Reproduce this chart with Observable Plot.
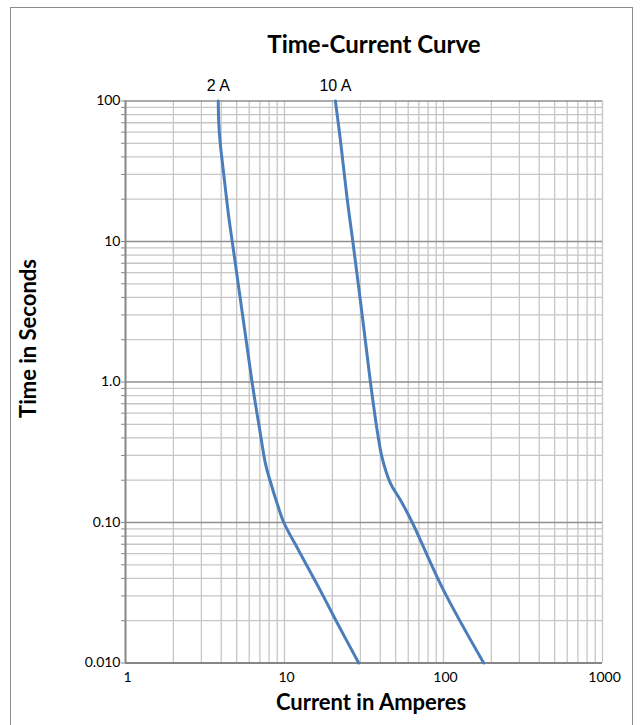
<!DOCTYPE html>
<html>
<head>
<meta charset="utf-8">
<script src="https://cdn.jsdelivr.net/npm/d3@7"></script>
<script src="https://cdn.jsdelivr.net/npm/@observablehq/plot@0.6"></script>
<style>
  html, body { margin: 0; padding: 0; background: #fff; }
  #wrap { position: relative; width: 641px; height: 725px; overflow: hidden; }
  #frame { position: absolute; left: 9.5px; top: 6.5px; width: 623px; height: 740px; border: 1px solid #8c8c8c; box-sizing: border-box; }
  #title { position: absolute; left: 0; top: 0; width: 641px; height: 70px; text-align: center; }
  #title span { position: absolute; left: 374px; top: 43px; transform: translate(-50%, -50%); font: bold 24px Lato, "Open Sans", sans-serif; color: #000; white-space: nowrap; }
  #chart { position: absolute; left: 0; top: 70px; }
</style>
</head>
<body>
<div id="wrap">
  <div id="frame"></div>
  <div id="title"><span>Time-Current Curve</span></div>
  <div id="chart"></div>
</div>
<script>
// ---- data ----
const amps2A = [3.83, 3.86, 3.93, 4.15, 4.46, 4.69, 5.45, 6.25, 7.0, 7.6, 8.1, 9.0, 9.9, 12.3, 16.3, 21.1, 29.3];
const secs2A = [100, 70, 52, 30, 15, 10, 3, 1, 0.45, 0.26, 0.2, 0.136, 0.1, 0.063, 0.035, 0.02, 0.01];
const amps10A = [20.9, 22.5, 24.8, 26.9, 30.8, 34.7, 38.3, 41.1, 46.4, 53.7, 63.6, 100, 179];
const secs10A = [100, 52, 20, 10, 3, 1, 0.45, 0.29, 0.19, 0.144, 0.1, 0.033, 0.01];
const seriesNames = ["2 A", "10 A"];

const xTickValues = [1, 10, 100, 1000];
const xTickLabels = ["1", "10", "100", "1000"];
const yTickValues = [0.01, 0.1, 1, 10, 100];
const yTickLabels = ["0.010", "0.10", "1.0", "10", "100"];

const xTitle = "Current in Amperes";
const yTitle = "Time in Seconds";

// ---- build tables ----
const curves = [
  ...amps2A.map((a, i) => ({series: seriesNames[0], amps: a, secs: secs2A[i]})),
  ...amps10A.map((a, i) => ({series: seriesNames[1], amps: a, secs: secs10A[i]}))
];
const curveLabels = [
  {label: seriesNames[0], amps: amps2A[0], secs: secs2A[0]},
  {label: seriesNames[1], amps: amps10A[0], secs: secs10A[0]}
];
const minors = (decades) => decades.slice(0, -1).flatMap(d => [2,3,4,5,6,7,8,9].map(k => d * k));
const xMinor = minors(xTickValues);
const yMinor = minors(yTickValues);
const xAll = [...xMinor, ...xTickValues];
const yMajorInner = yTickValues.slice(1);
const labelFont = "Lato, 'Open Sans', sans-serif";

const chart = Plot.plot({
  width: 641,
  height: 655,
  marginTop: 30.5,
  marginBottom: 62.5,
  marginLeft: 125,
  marginRight: 39,
  style: {background: "transparent", fontFamily: labelFont, fontSize: "14px", color: "#000"},
  x: {type: "log", domain: [1, 1000], axis: null},
  y: {type: "log", domain: [0.01, 100], axis: null},
  marks: [
    // minor grid
    Plot.ruleX(xAll.filter(v => v > 1), {stroke: "#c6c6c6", strokeWidth: 1.3}),
    Plot.ruleY(yMinor, {stroke: "#c6c6c6", strokeWidth: 1.3}),
    // major horizontal grid
    Plot.ruleY(yMajorInner, {stroke: "#8f8f8f", strokeWidth: 1.5}),
    // y ticks (small, left of axis)
    Plot.ruleY([...yMinor, ...yTickValues], {x1: 1, x2: 1, insetLeft: -4, stroke: "#868686", strokeWidth: 1}),
    // axis lines
    Plot.ruleX([1], {stroke: "#868686", strokeWidth: 2}),
    Plot.ruleY([0.01], {stroke: "#868686", strokeWidth: 2}),
    // tick labels
    Plot.text(xTickValues, {x: d => d, y: 0.01, text: (d, i) => xTickLabels[i], dx: 2, dy: 15, fill: "#000", fontSize: 14}),
    Plot.text(yTickValues, {x: 1, y: d => d, text: (d, i) => yTickLabels[i], dx: -5, textAnchor: "end", fill: "#000", fontSize: 14}),
    // curves
    Plot.line(curves, {x: "amps", y: "secs", z: "series", stroke: "#4a7ebb", strokeWidth: 3, curve: "catmull-rom"}),
    // curve labels
    Plot.text(curveLabels, {x: "amps", y: "secs", text: "label", dy: -15, fontSize: 16, fontFamily: "'Liberation Sans', Arial, sans-serif", fill: "#000"}),
    // axis titles
    Plot.text([xTitle], {frameAnchor: "bottom", text: d => d, textAnchor: "middle", lineAnchor: "middle", dx: 7, dy: 40, fontSize: 22, fontWeight: "bold", fill: "#000"}),
    Plot.text([yTitle], {frameAnchor: "left", text: d => d, textAnchor: "middle", lineAnchor: "middle", rotate: -90, dx: -97, dy: -43.5, fontSize: 22, fontWeight: "bold", fill: "#000"})
  ]
});
document.getElementById("chart").appendChild(chart);
</script>
</body>
</html>
